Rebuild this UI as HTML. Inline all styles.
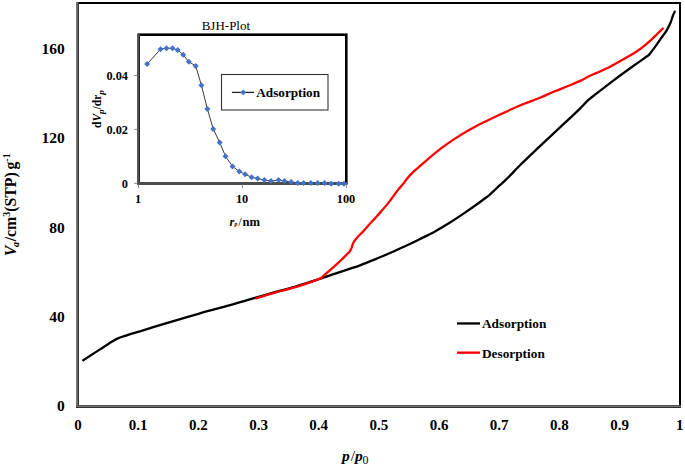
<!DOCTYPE html>
<html><head><meta charset="utf-8"><style>
html,body{margin:0;padding:0;background:#fff;overflow:hidden}
svg{display:block}
text{font-family:"Liberation Serif", serif;fill:#000}
.b15{font-size:15px;font-weight:bold}
.t15{font-size:15px}
.b13{font-size:13px;font-weight:bold}
.r13{font-size:13px}
.b12{font-size:11.5px;font-weight:bold}
</style></head><body>
<svg width="685" height="466" viewBox="0 0 685 466">
<rect width="685" height="466" fill="#fff"/>
<g shape-rendering="crispEdges">
<rect x="76" y="1.8" width="605" height="2.3" fill="#000"/>
<rect x="678.5" y="2" width="2.5" height="406" fill="#000"/>
<rect x="76" y="2" width="1" height="406" fill="#787878"/>
<rect x="77" y="2" width="1" height="406" fill="#666"/>
<rect x="78" y="2" width="1" height="406" fill="#333"/>
<rect x="76" y="405" width="605" height="1" fill="#505050"/>
<rect x="76" y="406" width="605" height="1" fill="#727272"/>
<rect x="76" y="407" width="605" height="1" fill="#2d2d2d"/>
</g>
<text x="64.8" y="411.3" text-anchor="end" class="b15" style="font-size:15.5px">0</text>
<text x="64.8" y="321.9" text-anchor="end" class="b15" style="font-size:15.5px">40</text>
<text x="64.8" y="232.5" text-anchor="end" class="b15" style="font-size:15.5px">80</text>
<text x="64.8" y="143.0" text-anchor="end" class="b15" style="font-size:15.5px">120</text>
<text x="64.8" y="53.6" text-anchor="end" class="b15" style="font-size:15.5px">160</text>
<text x="78.0" y="429.6" text-anchor="middle" class="b15">0</text>
<text x="138.2" y="429.6" text-anchor="middle" class="b15">0.1</text>
<text x="198.3" y="429.6" text-anchor="middle" class="b15">0.2</text>
<text x="258.5" y="429.6" text-anchor="middle" class="b15">0.3</text>
<text x="318.7" y="429.6" text-anchor="middle" class="b15">0.4</text>
<text x="378.9" y="429.6" text-anchor="middle" class="b15">0.5</text>
<text x="439.0" y="429.6" text-anchor="middle" class="b15">0.6</text>
<text x="499.2" y="429.6" text-anchor="middle" class="b15">0.7</text>
<text x="559.4" y="429.6" text-anchor="middle" class="b15">0.8</text>
<text x="619.5" y="429.6" text-anchor="middle" class="b15">0.9</text>
<text x="679.7" y="429.6" text-anchor="middle" class="b15">1</text>
<path d="M83.20 360.20C88.80 356.60 94.40 353.00 100.00 349.40C104.50 346.50 108.87 343.39 113.50 340.70C115.12 339.76 116.77 338.84 118.50 338.10C120.28 337.33 122.16 336.82 124.00 336.20C125.33 335.75 126.66 335.32 128.00 334.90C131.99 333.65 136.00 332.51 140.00 331.30C150.01 328.26 159.98 325.11 170.00 322.10C179.98 319.11 189.97 316.13 200.00 313.30C209.97 310.49 220.03 308.00 230.00 305.20C238.36 302.85 246.66 300.31 255.00 297.90C261.66 295.98 268.32 294.04 275.00 292.20C279.99 290.82 285.03 289.63 290.00 288.20C295.03 286.76 300.01 285.17 305.00 283.60C310.91 281.74 316.82 279.86 322.70 277.90C327.15 276.41 331.56 274.81 336.00 273.30C338.99 272.28 342.00 271.30 345.00 270.30C350.00 268.63 355.05 267.10 360.00 265.30C365.05 263.47 370.03 261.44 375.00 259.40C380.03 257.34 385.02 255.18 390.00 253.00C395.02 250.81 400.04 248.62 405.00 246.30C410.04 243.95 415.02 241.47 420.00 239.00C425.02 236.51 430.09 234.10 435.00 231.40C440.10 228.60 445.07 225.59 450.00 222.50C455.08 219.32 460.05 215.97 465.00 212.60C469.37 209.63 473.71 206.60 478.00 203.50C481.71 200.82 485.33 198.03 489.00 195.30C491.67 192.80 494.32 190.28 497.00 187.80C499.98 185.05 503.08 182.42 506.00 179.60C510.80 174.97 515.25 169.99 520.00 165.30C526.56 158.82 533.31 152.54 540.00 146.20C546.64 139.91 553.33 133.67 560.00 127.40C566.67 121.13 573.49 115.03 580.00 108.60C582.80 105.83 585.29 102.75 588.20 100.10C590.34 98.15 592.72 96.48 595.00 94.70C601.63 89.52 608.26 84.34 615.00 79.30C621.60 74.37 628.31 69.61 635.00 64.80C637.66 62.89 640.32 60.98 643.00 59.10C644.96 57.72 646.93 56.37 648.90 55.00C650.83 52.47 652.82 49.97 654.70 47.40C656.86 44.44 658.90 41.40 661.00 38.40C663.00 35.53 665.23 32.81 667.00 29.80C668.50 27.24 669.79 24.55 670.90 21.80C671.66 19.91 672.08 17.90 672.80 16.00C673.37 14.51 674.07 13.07 674.70 11.60" fill="none" stroke="#000" stroke-width="2.3" stroke-linejoin="round" stroke-linecap="round"/>
<path d="M256.50 298.30C262.67 296.43 268.80 294.46 275.00 292.70C279.98 291.28 285.03 290.13 290.00 288.70C295.03 287.26 300.04 285.76 305.00 284.10C310.25 282.34 315.40 280.30 320.60 278.40C322.40 276.80 324.19 275.19 326.00 273.60C327.83 271.99 329.66 270.40 331.50 268.80C333.26 267.26 335.07 265.77 336.80 264.20C338.57 262.60 340.30 260.97 342.00 259.30C343.70 257.63 345.32 255.89 347.00 254.20C347.93 253.26 349.03 252.47 349.80 251.40C350.63 250.25 351.17 248.91 351.70 247.60C352.32 246.08 352.48 244.38 353.20 242.90C353.75 241.78 354.54 240.79 355.30 239.80C356.26 238.54 357.32 237.36 358.40 236.20C359.55 234.96 360.83 233.83 362.00 232.60C363.41 231.11 364.73 229.53 366.10 228.00C370.05 223.61 374.08 219.31 378.00 214.90C381.37 211.10 384.82 207.36 388.00 203.40C391.51 199.03 394.50 194.27 398.00 189.90C399.59 187.91 401.39 186.08 403.00 184.10C404.73 181.98 406.23 179.68 408.00 177.60C409.89 175.37 411.89 173.22 414.00 171.20C416.22 169.08 418.67 167.21 421.00 165.20C424.01 162.61 426.96 159.96 430.00 157.40C433.62 154.35 437.22 151.26 441.00 148.40C445.54 144.96 450.23 141.71 455.00 138.60C459.90 135.40 464.90 132.37 470.00 129.50C474.91 126.74 479.96 124.22 485.00 121.70C489.96 119.22 494.97 116.84 500.00 114.50C506.63 111.42 513.26 108.33 520.00 105.50C526.60 102.73 533.38 100.42 540.00 97.70C545.04 95.63 549.96 93.28 555.00 91.20C559.97 89.15 565.04 87.37 570.00 85.30C573.36 83.90 576.71 82.46 580.00 80.90C583.38 79.30 586.61 77.39 590.00 75.80C593.28 74.26 596.69 72.99 600.00 71.50C603.36 69.99 606.72 68.48 610.00 66.80C613.40 65.05 616.67 63.07 620.00 61.20C623.33 59.33 626.72 57.55 630.00 55.60C632.37 54.19 634.72 52.75 637.00 51.20C639.05 49.81 641.06 48.34 643.00 46.80C646.09 44.35 649.10 41.78 652.00 39.10C653.87 37.37 655.58 35.48 657.40 33.70C659.18 31.95 661.00 30.23 662.80 28.50" fill="none" stroke="#f00" stroke-width="2.3" stroke-linejoin="round" stroke-linecap="round"/>
<text x="341.9" y="461" class="t15" style="font-size:15.5px"><tspan font-weight="bold" font-style="italic">p</tspan><tspan font-weight="normal" dx="1.0">/</tspan><tspan font-weight="bold" font-style="italic" dx="0">p</tspan><tspan font-size="12" dy="2.8" dx="-0.2" font-weight="normal">0</tspan></text>
<text transform="translate(16.2,256.3) rotate(-90)" class="t15" style="font-size:15.8px" font-weight="bold"><tspan font-style="italic">V</tspan><tspan font-size="10" dy="3" dx="-1.2" font-style="italic">a</tspan><tspan dy="-3" dx="0.6">/cm</tspan><tspan font-size="10" dy="-6">3</tspan><tspan dy="6">(STP)</tspan><tspan dx="2.7">g</tspan><tspan font-size="10" dy="-6">-1</tspan></text>
<rect x="457" y="322.3" width="23" height="2.3" fill="#000"/>
<rect x="457" y="351.5" width="23" height="2.3" fill="#f00"/>
<text x="482" y="327.8" class="b13" style="font-size:13.3px">Adsorption</text>
<text x="482" y="357.5" class="b13" style="font-size:13.3px">Desorption</text>
<rect x="138.7" y="34.7" width="207.6" height="148.6" fill="#fff" stroke="#000" stroke-width="2.6"/>
<g shape-rendering="crispEdges">
<rect x="137" y="34" width="1" height="151" fill="#5a5a5a"/>
<rect x="138" y="34" width="1" height="151" fill="#505050"/>
<rect x="139" y="34" width="1" height="151" fill="#262626"/>
<rect x="137" y="182" width="210" height="3" fill="#4d4d4d"/>
</g>
<line x1="134.2" x2="137.5" y1="183.3" y2="183.3" stroke="#888" stroke-width="1"/>
<text x="128" y="187.6" text-anchor="end" class="b12" style="font-size:12.3px">0</text>
<line x1="134.2" x2="137.5" y1="129.4" y2="129.4" stroke="#888" stroke-width="1"/>
<text x="128" y="133.7" text-anchor="end" class="b12" style="font-size:12.3px">0.02</text>
<line x1="134.2" x2="137.5" y1="75.5" y2="75.5" stroke="#888" stroke-width="1"/>
<text x="128" y="79.8" text-anchor="end" class="b12" style="font-size:12.3px">0.04</text>
<line x1="138.5" x2="138.5" y1="184.5" y2="188" stroke="#888" stroke-width="1"/>
<text x="138.2" y="202.8" text-anchor="middle" class="b12" style="font-size:12.3px">1</text>
<line x1="242.4" x2="242.4" y1="184.5" y2="188" stroke="#888" stroke-width="1"/>
<text x="242.1" y="202.8" text-anchor="middle" class="b12" style="font-size:12.3px">10</text>
<line x1="346.3" x2="346.3" y1="184.5" y2="188" stroke="#888" stroke-width="1"/>
<text x="346.0" y="202.8" text-anchor="middle" class="b12" style="font-size:12.3px">100</text>
<text x="225.9" y="29.7" text-anchor="middle" class="r13">BJH-Plot</text>
<text y="225.5" class="b12" style="font-size:12.6px"><tspan x="229.4" font-style="italic">r</tspan><tspan x="234.6" font-size="5.5" dy="0.6" font-style="italic">p</tspan><tspan x="238.2" dy="-0.6" font-weight="normal">/</tspan><tspan x="242.6">nm</tspan></text>
<text transform="translate(100.6,128) rotate(-90)" class="b12">d<tspan font-style="italic">V</tspan><tspan font-style="italic" font-size="9" dy="3">p</tspan><tspan dy="-3">/dr</tspan><tspan font-style="italic" font-size="9" dy="3">p</tspan></text>
<rect x="221.5" y="74.5" width="106.5" height="35.5" fill="#fff" stroke="#333" stroke-width="1.1"/>
<line x1="231.9" x2="254" y1="92.4" y2="92.4" stroke="#222" stroke-width="1.3"/>
<g fill="#4472c4"><path d="M243.20 89.50L246.10 92.40L243.20 95.30L240.30 92.40Z"/></g>
<text x="256.3" y="96.9" class="b13" style="font-size:13.2px">Adsorption</text>
<polyline points="147.1,64.1 160.5,49.2 166.5,48.3 172.5,48.3 177.7,50.0 183.2,54.8 188.8,61.7 195.7,66.0 201.4,85.2 207.4,109.1 213.2,128.9 219.7,142.4 225.5,156.3 232.5,166.4 239.3,171.4 245.1,174.3 251.6,177.2 257.6,178.6 264.4,180.0 271.0,181.1 278.6,180.0 284.5,181.1 291.1,182.0 297.7,182.9 303.6,182.9 310.8,182.9 317.6,182.9 324.6,182.9 331.2,183.7 338.6,183.7 343.9,183.7" fill="none" stroke="#3a3a3a" stroke-width="1" stroke-linejoin="round"/>
<g fill="#4472c4"><path d="M147.10 61.10L150.10 64.10L147.10 67.10L144.10 64.10Z"/><path d="M160.50 46.20L163.50 49.20L160.50 52.20L157.50 49.20Z"/><path d="M166.50 45.30L169.50 48.30L166.50 51.30L163.50 48.30Z"/><path d="M172.50 45.30L175.50 48.30L172.50 51.30L169.50 48.30Z"/><path d="M177.70 47.00L180.70 50.00L177.70 53.00L174.70 50.00Z"/><path d="M183.20 51.80L186.20 54.80L183.20 57.80L180.20 54.80Z"/><path d="M188.80 58.70L191.80 61.70L188.80 64.70L185.80 61.70Z"/><path d="M195.70 63.00L198.70 66.00L195.70 69.00L192.70 66.00Z"/><path d="M201.40 82.20L204.40 85.20L201.40 88.20L198.40 85.20Z"/><path d="M207.40 106.10L210.40 109.10L207.40 112.10L204.40 109.10Z"/><path d="M213.20 125.90L216.20 128.90L213.20 131.90L210.20 128.90Z"/><path d="M219.70 139.40L222.70 142.40L219.70 145.40L216.70 142.40Z"/><path d="M225.50 153.30L228.50 156.30L225.50 159.30L222.50 156.30Z"/><path d="M232.50 163.40L235.50 166.40L232.50 169.40L229.50 166.40Z"/><path d="M239.30 168.40L242.30 171.40L239.30 174.40L236.30 171.40Z"/><path d="M245.10 171.30L248.10 174.30L245.10 177.30L242.10 174.30Z"/><path d="M251.60 174.20L254.60 177.20L251.60 180.20L248.60 177.20Z"/><path d="M257.60 175.60L260.60 178.60L257.60 181.60L254.60 178.60Z"/><path d="M264.40 177.00L267.40 180.00L264.40 183.00L261.40 180.00Z"/><path d="M271.00 178.10L274.00 181.10L271.00 184.10L268.00 181.10Z"/><path d="M278.60 177.00L281.60 180.00L278.60 183.00L275.60 180.00Z"/><path d="M284.50 178.10L287.50 181.10L284.50 184.10L281.50 181.10Z"/><path d="M291.10 179.00L294.10 182.00L291.10 185.00L288.10 182.00Z"/><path d="M297.70 179.90L300.70 182.90L297.70 185.90L294.70 182.90Z"/><path d="M303.60 179.90L306.60 182.90L303.60 185.90L300.60 182.90Z"/><path d="M310.80 179.90L313.80 182.90L310.80 185.90L307.80 182.90Z"/><path d="M317.60 179.90L320.60 182.90L317.60 185.90L314.60 182.90Z"/><path d="M324.60 179.90L327.60 182.90L324.60 185.90L321.60 182.90Z"/><path d="M331.20 180.70L334.20 183.70L331.20 186.70L328.20 183.70Z"/><path d="M338.60 180.70L341.60 183.70L338.60 186.70L335.60 183.70Z"/><path d="M343.90 180.70L346.90 183.70L343.90 186.70L340.90 183.70Z"/></g>
</svg>
</body></html>
